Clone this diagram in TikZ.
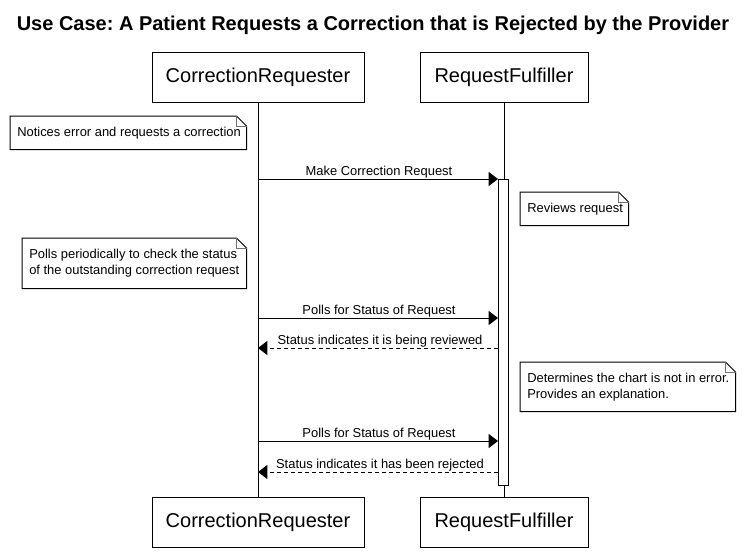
\documentclass[tikz,border=0pt]{standalone}
\usepackage{fontspec}
\setmainfont{Liberation Sans}
\usetikzlibrary{arrows.meta}
\frenchspacing
\tikzset{
  actor/.style={draw, line width=0.75pt, fill=white, font=\fontsize{15}{18}\selectfont, inner sep=0pt},
  lifeline/.style={line width=0.75pt},
  actbar/.style={draw, line width=0.75pt, fill=white, minimum width=7.5pt, inner sep=0pt},
  notebox/.style={inner sep=0pt},
  noteline/.style={line width=0.75pt, fill=white},
  foldline/.style={line width=0.75pt, draw=black!55},
  notetext/.style={font=\fontsize{9.7}{12}\selectfont, align=left, inner sep=0pt},
  msg/.style={line width=0.75pt, -{Triangle[length=7pt, width=10.5pt]}},
  reply/.style={msg, dash pattern=on 3pt off 2.25pt},
  msglabel/.style={font=\fontsize{9.7}{11}\selectfont, inner sep=0pt, anchor=base},
}
\newcommand\mynote[6]{%
  \node[notebox, minimum width=#4*0.75pt, minimum height=#5*0.75pt, anchor=north west] (#1) at (#2,#3) {};
  \draw[noteline] (#1.south west) -- (#1.north west) -- ([xshift=-7.5pt]#1.north east) -- ([yshift=-7.5pt]#1.north east) -- (#1.south east) -- cycle;
  \draw[foldline] ([xshift=-7.5pt]#1.north east) -- ([xshift=-7.5pt,yshift=-7.5pt]#1.north east) -- ([yshift=-7.5pt]#1.north east);
  \node[notetext, anchor=west] (#1t) at ([xshift=5.25pt]#1.west) {#6};
}
\begin{document}
\begin{tikzpicture}[x=0.75pt, y=-0.75pt]
\useasboundingbox[fill=white] (0,0) rectangle (744,557);
% title
\node[font=\fontsize{15}{17}\selectfont\bfseries, inner sep=0pt, anchor=base] (title) at (373,30) {Use Case: A Patient Requests a Correction that is Rejected by the Provider};
% participants
\node[actor, minimum width=212*0.75pt, minimum height=50*0.75pt] (crtop) at (258,77) {CorrectionRequester};
\node[actor, minimum width=168*0.75pt, minimum height=50*0.75pt] (rftop) at (504,77) {RequestFulfiller};
\node[actor, minimum width=212*0.75pt, minimum height=50*0.75pt] (crbot) at (258,522.5) {CorrectionRequester};
\node[actor, minimum width=168*0.75pt, minimum height=50*0.75pt] (rfbot) at (504,522.5) {RequestFulfiller};
% lifelines
\draw[lifeline] (crtop) -- (crbot);
\draw[lifeline] (rftop) -- (rfbot);
% activation bar
\node[actbar, minimum height=306*0.75pt, anchor=north] (act) at (503.5,179) {};
% notes
\mynote{n1}{10}{116}{236}{33}{Notices error and requests a correction}
\mynote{n2}{520}{192}{108}{33}{Reviews request}
\mynote{n3}{22}{238}{224}{50}{Polls periodically to check the status\\of the outstanding correction request}
\mynote{n4}{520}{362}{215}{49}{Determines the chart is not in error.\\Provides an explanation.}
% messages
\coordinate (m1) at (258,179);
\coordinate (m2) at (258,318);
\coordinate (m3) at (258,348);
\coordinate (m4) at (258,441);
\coordinate (m5) at (258,472);
\draw[msg] (m1) -- (m1 -| act.west);
\node[msglabel] (l1) at (379,175) {Make Correction Request};
\draw[msg] (m2) -- (m2 -| act.west);
\node[msglabel] (l2) at (379,314) {Polls for Status of Request};
\draw[reply] (m3 -| act.west) -- (m3);
\node[msglabel] (l3) at (380,344) {Status indicates it is being reviewed};
\draw[msg] (m4) -- (m4 -| act.west);
\node[msglabel] (l4) at (379,437) {Polls for Status of Request};
\draw[reply] (m5 -| act.west) -- (m5);
\node[msglabel] (l5) at (380,468) {Status indicates it has been rejected};
\end{tikzpicture}
\end{document}
